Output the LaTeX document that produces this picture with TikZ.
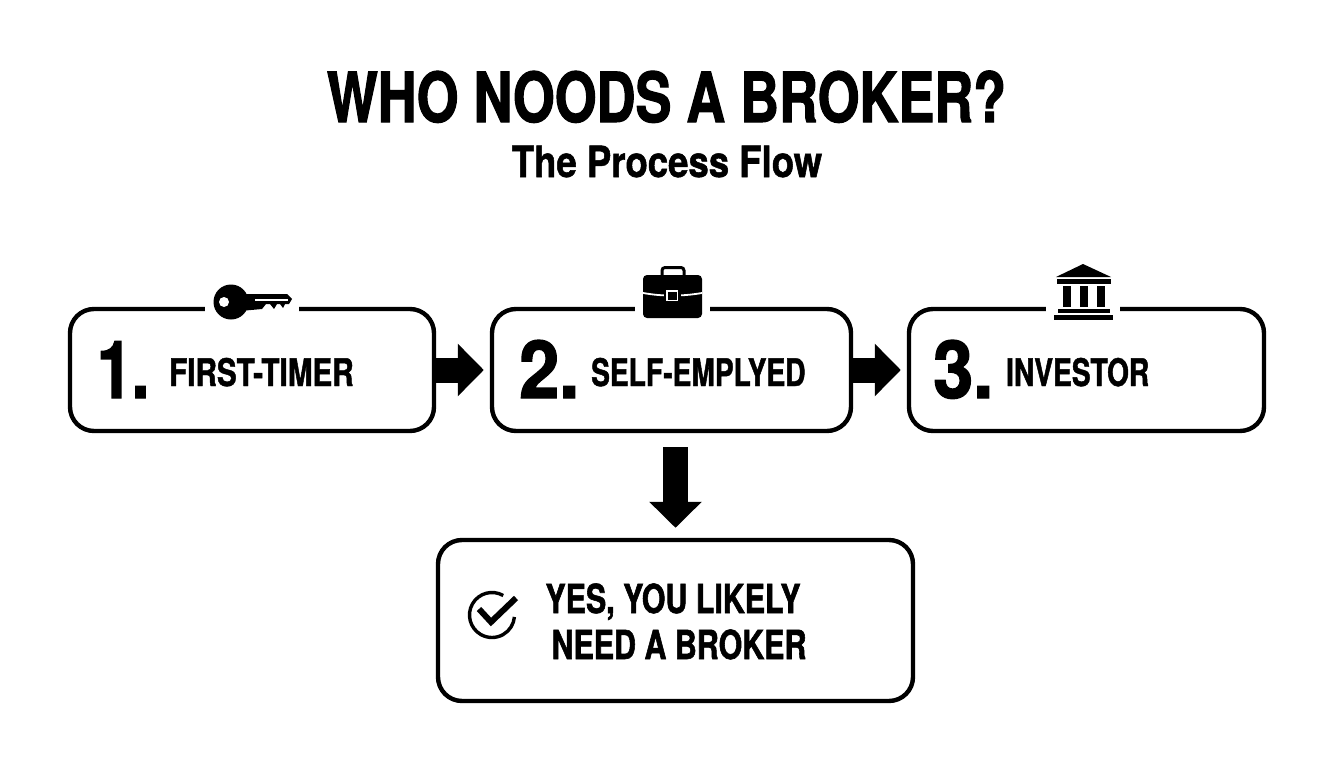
\documentclass[tikz,border=0pt]{standalone}
\usepackage{fontspec}
\newfontfamily\fa[FakeStretch=0.78,FakeBold=1.6]{TeX Gyre Heros Bold}
\newfontfamily\fb[FakeStretch=0.85,FakeBold=1.2]{TeX Gyre Heros Bold}
\newfontfamily\fc[FakeStretch=0.90,FakeBold=1.8]{TeX Gyre Heros Bold}
\newfontfamily\fg[FakeStretch=0.78,FakeBold=1.8]{TeX Gyre Heros Bold}
\newfontfamily\fd[FakeStretch=0.74,FakeBold=1.2]{TeX Gyre Heros Bold}
\newfontfamily\fe[FakeStretch=0.78,FakeBold=1.2]{TeX Gyre Heros Bold}
\newfontfamily\ff[FakeStretch=0.76,FakeBold=1.4]{TeX Gyre Heros Bold}
\usetikzlibrary{arrows.meta,calc}
\tikzset{
  stepbox/.style={draw=black,line width=4.4pt,rounded corners=24pt,fill=white,minimum height=122pt,inner sep=0pt},
  flow/.style={draw=black,line width=25pt,-{Triangle[length=26pt,width=51pt]}},
  gapnode/.style={fill=white,minimum height=10pt,inner sep=0pt,outer sep=0pt},
  num/.style={anchor=base west,inner sep=0pt,font=\fc\fontsize{80}{80}\selectfont},
  lab/.style={anchor=base west,inner sep=0pt,font=\fd\fontsize{38}{38}\selectfont},
  res/.style={anchor=base,inner sep=0pt,font=\ff\fontsize{40}{40}\selectfont},
  ico/.style={fill=black,draw=none}
}
\begin{document}
\begin{tikzpicture}[x=1pt,y=-1pt]
\useasboundingbox (0,0) rectangle (1344,768);
\fill[white] (0,0) rectangle (1344,768);
% boxes
\node[stepbox,minimum width=364pt] (a) at (252,370) {};
\node[stepbox,minimum width=359pt] (b) at (671.5,370) {};
\node[stepbox,minimum width=355pt] (c) at (1086.5,370) {};
\node[stepbox,minimum width=475pt,minimum height=161pt] (d) at (675.5,620.5) {};
% connectors
\draw[flow,shorten >=6pt] (a.east) -- (b.west);
\draw[flow,shorten >=6pt] (b.east) -- (c.west);
\draw[flow,shorten <=14pt,shorten >=10pt] (d.north|-b.south) -- (d.north);
% gaps in the frames
\node[gapnode,minimum width=94pt] (ga) at (252,309) {};
\node[gapnode,minimum width=75pt] (gb) at (672.5,309) {};
\node[gapnode,minimum width=74pt] (gc) at (1083,309) {};
% title
\node[anchor=base,inner sep=0pt,font=\fa\fontsize{69}{69}\selectfont] (title) at (666.5,122) {WHO NOODS A BROKER?};
\node[anchor=base,inner sep=0pt,font=\fb\fontsize{43}{43}\selectfont] (sub) at (667,177) {The Process Flow};
% labels
\node[num,font=\fg\fontsize{80}{80}\selectfont] (n1) at (97,398) {1.};
\node[lab,font=\fe\fontsize{38}{38}\selectfont] (l1) at (169,386) {FIRST-TIMER};
\node[num] (n2) at (519,398) {2.};
\node[lab] (l2) at (591,386) {SELF-EMPLYED};
\node[num] (n3) at (933,398) {3.};
\node[lab] (l3) at (1006,386) {INVESTOR};
\node[res] (y1) at (673,613) {YES, YOU LIKELY};
\node[res] (y2) at (679,659) {NEED A BROKER};
% key
\fill[black] (231,302) circle (17.5);
\fill[ico] (240,294) -- (287,294) -- (292,299) -- (289,304) -- (285,304) -- (283,308) -- (280,304) -- (277,304) -- (274,309) -- (270,304) -- (266,304) -- (262,309) -- (240,311) -- cycle;
\fill[white] (224,302) circle (5);
\draw[white,line width=1.6pt] (255,300) -- (288,300);
% briefcase
\draw[black,line width=3pt,rounded corners=3pt] (662,276) -- (662,267.5) -- (684,267.5) -- (684,276);
\fill[ico,rounded corners=4pt] (643,275) rectangle (702,318);
\draw[white,line width=1.8pt] (643,293) .. controls (655,295) and (662,295.5) .. (672,295.5) .. controls (682,295.5) and (690,295) .. (702,293);
\fill[ico] (664,288) rectangle (681,303);
\draw[white,line width=1.8pt] (667,291) rectangle (677.5,300.5);
% bank
\fill[ico] (1083,264) -- (1111,277) -- (1056,277) -- cycle;
\fill[ico] (1057,278.5) rectangle (1111,284);
\fill[ico] (1062.5,285.5) rectangle (1070.5,307);
\fill[ico] (1080,285.5) rectangle (1088,307);
\fill[ico] (1097,285.5) rectangle (1105,307);
\fill[ico] (1058,309) rectangle (1110,313);
\fill[ico] (1054,315) rectangle (1113,319.5);
% check
\draw[black,line width=3.4pt] (492,615) ++(-60:22.5) arc[start angle=-60,end angle=-355,radius=22.5];
\draw[black,line width=6pt] (479,609) -- (491,622) -- (516,598);
\end{tikzpicture}
\end{document}
